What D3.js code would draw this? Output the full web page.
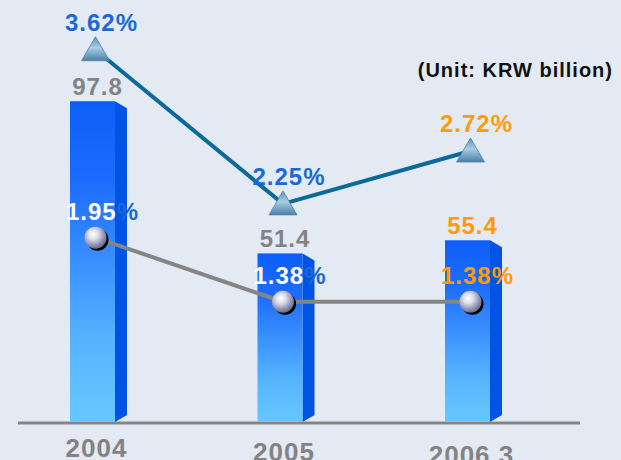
<!DOCTYPE html>
<html>
<head>
<meta charset="utf-8">
<script src="https://cdn.jsdelivr.net/npm/d3@7"></script>
<style>
  html, body { margin: 0; padding: 0; background: #e4eaf3; }
  svg { display: block; font-family: Arial, "Liberation Sans", sans-serif; }
</style>
</head>
<body>
<div id="chart"></div>
<script>
/**
 * DATA
 * */
const categories = ["2004", "2005", "2006.3"];
const amounts = [97.8, 51.4, 55.4];      // KRW billion (bars)
const rateTri = [3.62, 2.25, 2.72];      // upper line, triangle markers
const rateBall = [1.95, 1.38, 1.38];     // lower line, ball markers
const unitLabel = "(Unit: KRW billion)";

/**
 * CONSTANTS
 * */
const width = 621,
  height = 460;

const blue = "#1a6ad6",
  gray = "#838383",
  orange = "#ff9a0a",
  lastIdx = categories.length - 1;

const svg = d3.select("#chart")
  .append("svg")
  .attr("width", width)
  .attr("height", height);

svg.append("rect")
  .attr("width", width)
  .attr("height", height)
  .attr("fill", "#e4eaf3");

// scales
const x = d3.scalePoint().domain(categories).range([92.5, 467.5]);
const yBar = d3.scaleLinear().domain([0, 100]).range([422, 94]);
const yRate = d3.scaleLinear().domain([0, 4]).range([457, 7]);

const barW = 45, sideW = 12;

// gradients
const defs = svg.append("defs");

const gFront = defs.append("linearGradient")
  .attr("id", "front").attr("x1", 0).attr("y1", 0).attr("x2", 0).attr("y2", 1);
gFront.append("stop").attr("offset", "0%").attr("stop-color", "#0d5ef8");
gFront.append("stop").attr("offset", "25%").attr("stop-color", "#1d6cfd");
gFront.append("stop").attr("offset", "75%").attr("stop-color", "#56b4ff");
gFront.append("stop").attr("offset", "100%").attr("stop-color", "#66c8ff");

const gTri = defs.append("linearGradient")
  .attr("id", "tri").attr("x1", 0).attr("y1", 0).attr("x2", 0).attr("y2", 1);
gTri.append("stop").attr("offset", "0%").attr("stop-color", "#5a8fb3");
gTri.append("stop").attr("offset", "45%").attr("stop-color", "#a8cde3");
gTri.append("stop").attr("offset", "100%").attr("stop-color", "#4a7fa8");

const gBall = defs.append("radialGradient")
  .attr("id", "ball").attr("cx", "40%").attr("cy", "35%").attr("r", "65%");
gBall.append("stop").attr("offset", "0%").attr("stop-color", "#ffffff");
gBall.append("stop").attr("offset", "35%").attr("stop-color", "#dcdeeb");
gBall.append("stop").attr("offset", "80%").attr("stop-color", "#8a8cae");
gBall.append("stop").attr("offset", "100%").attr("stop-color", "#6a6c92");

// baseline
svg.append("line")
  .attr("x1", 18).attr("x2", 580)
  .attr("y1", yBar(0) + 1).attr("y2", yBar(0) + 1)
  .attr("stroke", "#858585")
  .attr("stroke-width", 3);

// bars
const bars = svg.selectAll("g.bar")
  .data(amounts)
  .join("g")
  .attr("class", "bar");

bars.append("path")
  .attr("fill", "#0054e4")
  .attr("d", (d, i) => {
    const x0 = x(categories[i]) + barW / 2,
      top = yBar(d),
      bot = yBar(0);
    return `M${x0},${top} L${x0 + sideW},${top + 7} L${x0 + sideW},${bot - 7} L${x0},${bot} Z`;
  });

bars.append("rect")
  .attr("x", (d, i) => x(categories[i]) - barW / 2)
  .attr("y", d => yBar(d))
  .attr("width", barW)
  .attr("height", d => yBar(0) - yBar(d))
  .attr("fill", "url(#front)");

// bar value labels
svg.selectAll("text.amount")
  .data(amounts)
  .join("text")
  .attr("class", "amount")
  .attr("x", (d, i) => x(categories[i]) + 5)
  .attr("y", d => yBar(d) - 6)
  .attr("text-anchor", "middle")
  .attr("font-size", 24)
  .attr("font-weight", "bold")
  .attr("letter-spacing", 1)
  .attr("fill", (d, i) => i === lastIdx ? orange : gray)
  .text(d => d.toFixed(1));

// line generator
const line = d3.line()
  .x((d, i) => x(categories[i]) + 3)
  .y(d => yRate(d));

// lower (ball) line
svg.append("path")
  .datum(rateBall)
  .attr("d", line)
  .attr("fill", "none")
  .attr("stroke", "#858585")
  .attr("stroke-width", 4);

// upper (triangle) line
svg.append("path")
  .datum(rateTri)
  .attr("d", line)
  .attr("fill", "none")
  .attr("stroke", "#0b6a97")
  .attr("stroke-width", 4);

// triangle markers
svg.selectAll("path.tri")
  .data(rateTri)
  .join("path")
  .attr("class", "tri")
  .attr("d", (d, i) => {
    const cx = x(categories[i]) + 3, cy = yRate(d);
    return `M${cx},${cy - 13} L${cx + 14},${cy + 11} L${cx - 14},${cy + 11} Z`;
  })
  .attr("fill", "url(#tri)")
  .attr("stroke", "#4f84a8")
  .attr("stroke-width", 0.8);

// ball markers (shadow + ball)
svg.selectAll("circle.shadow")
  .data(rateBall)
  .join("circle")
  .attr("class", "shadow")
  .attr("cx", (d, i) => x(categories[i]) + 5)
  .attr("cy", d => yRate(d) + 2)
  .attr("r", 11)
  .attr("fill", "#000");

svg.selectAll("circle.ball")
  .data(rateBall)
  .join("circle")
  .attr("class", "ball")
  .attr("cx", (d, i) => x(categories[i]) + 3)
  .attr("cy", d => yRate(d))
  .attr("r", 11)
  .attr("fill", "url(#ball)");

// rate labels
function rateLabels(cls, data, dx, dy, numColor) {
  const t = svg.selectAll("text." + cls)
    .data(data)
    .join("text")
    .attr("class", cls)
    .attr("x", (d, i) => x(categories[i]) + dx)
    .attr("y", d => yRate(d) + dy)
    .attr("text-anchor", "middle")
    .attr("font-size", 24)
    .attr("font-weight", "bold")
    .attr("letter-spacing", 1);
  t.append("tspan")
    .attr("fill", (d, i) => i === lastIdx ? orange : numColor)
    .text(d => d.toFixed(2));
  t.append("tspan")
    .attr("fill", (d, i) => i === lastIdx ? orange : blue)
    .text("%");
}

rateLabels("rateTri", rateTri, 9, -19, blue);
rateLabels("rateBall", rateBall, 10, -18, "#ffffff");

// unit label
svg.append("text")
  .attr("x", 613)
  .attr("y", 77)
  .attr("text-anchor", "end")
  .attr("font-size", 20)
  .attr("font-weight", "bold")
  .attr("letter-spacing", 1)
  .attr("fill", "#111")
  .text(unitLabel);

// category labels
svg.selectAll("text.cat")
  .data(categories)
  .join("text")
  .attr("class", "cat")
  .attr("x", d => x(d) + 4)
  .attr("y", (d, i) => 457 + i * 3.5)
  .attr("text-anchor", "middle")
  .attr("font-size", 26)
  .attr("font-weight", "bold")
  .attr("letter-spacing", 1)
  .attr("fill", gray)
  .text(d => d);
</script>
</body>
</html>
